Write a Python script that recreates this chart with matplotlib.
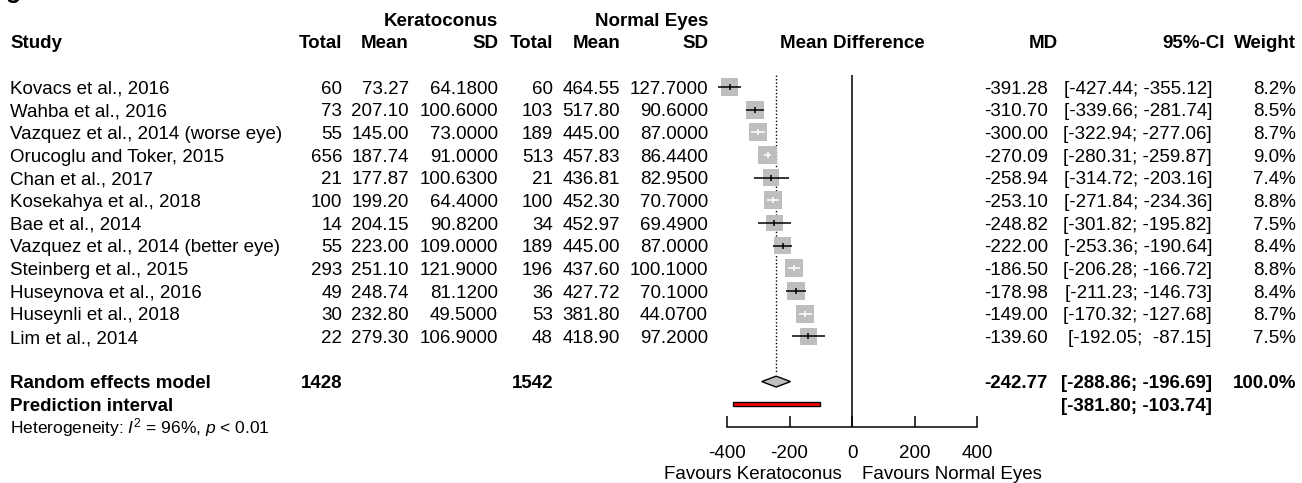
import numpy as np
import matplotlib
matplotlib.use("Agg")
import matplotlib.pyplot as plt
from matplotlib.patches import Rectangle, Polygon

plt.rcParams['font.family'] = ['Liberation Sans', 'DejaVu Sans']
plt.rcParams['font.size'] = 13.5
plt.rcParams['axes.unicode_minus'] = False
plt.rcParams['mathtext.fontset'] = 'custom'
plt.rcParams['mathtext.rm'] = 'Liberation Sans'
plt.rcParams['mathtext.it'] = 'Liberation Sans:italic'

# study data
studies = ["Kovacs et al., 2016", "Wahba et al., 2016", "Vazquez et al., 2014 (worse eye)",
           "Orucoglu and Toker, 2015", "Chan et al., 2017", "Kosekahya et al., 2018",
           "Bae et al., 2014", "Vazquez et al., 2014 (better eye)", "Steinberg et al., 2015",
           "Huseynova et al., 2016", "Huseynli et al., 2018", "Lim et al., 2014"]
kc_n = [60, 73, 55, 656, 21, 100, 14, 55, 293, 49, 30, 22]
kc_mean = [73.27, 207.10, 145.00, 187.74, 177.87, 199.20, 204.15, 223.00, 251.10, 248.74, 232.80, 279.30]
kc_sd = [64.18, 100.6, 73.0, 91.0, 100.63, 64.4, 90.82, 109.0, 121.9, 81.12, 49.5, 106.9]
ne_n = [60, 103, 189, 513, 21, 100, 34, 189, 196, 36, 53, 48]
ne_mean = [464.55, 517.80, 445.00, 457.83, 436.81, 452.30, 452.97, 445.00, 437.60, 427.72, 381.80, 418.90]
ne_sd = [127.7, 90.6, 87.0, 86.44, 82.95, 70.7, 69.49, 87.0, 100.1, 70.1, 44.07, 97.2]
md = [-391.28, -310.70, -300.00, -270.09, -258.94, -253.10, -248.82, -222.00, -186.50, -178.98, -149.00, -139.60]
ci_lo = [-427.44, -339.66, -322.94, -280.31, -314.72, -271.84, -301.82, -253.36, -206.28, -211.23, -170.32, -192.05]
ci_hi = [-355.12, -281.74, -277.06, -259.87, -203.16, -234.36, -195.82, -190.64, -166.72, -146.73, -127.68, -87.15]
weight = [8.2, 8.5, 8.7, 9.0, 7.4, 8.8, 7.5, 8.4, 8.8, 8.4, 8.7, 7.5]

# pooled results
re_md = -242.77
re_lo, re_hi = -288.86, -196.69
pi_lo, pi_hi = -381.80, -103.74
kc_total, ne_total = 1428, 1542

W, H = 1302, 483
row0, drow = 87.0, 22.66        # pixel y of first study row, row spacing
ylim = ((H - row0) / drow, -row0 / drow)

fig = plt.figure(figsize=(W / 100, H / 100), dpi=100)

# text layer, x in pixels, y in rows
tx = fig.add_axes([0, 0, 1, 1])
tx.set_xlim(0, W)
tx.set_ylim(*ylim)
tx.axis('off')

# forest layer, x in mean difference units
fx = fig.add_axes([727 / W, 0, 250 / W, 1])
fx.set_xlim(-400, 400)
fx.set_ylim(*ylim)
fx.patch.set_visible(False)
for s in ['top', 'right', 'left']:
    fx.spines[s].set_visible(False)
fx.spines['bottom'].set_position(('data', 15))
fx.spines['bottom'].set_bounds(-400, 400)
fx.spines['bottom'].set_linewidth(1.1)
fx.set_yticks([])
fx.set_xticks([-400, -200, 0, 200, 400])
fx.tick_params(axis='x', direction='in', length=8, width=1.1, pad=13, labelsize=13.5)

BASE = 0.3  # baseline offset (rows) so caps are centred on the row


def put(x, r, s, ha='right', bold=False, size=None):
    tx.text(x, r + BASE, s, ha=ha, va='baseline',
            fontweight='bold' if bold else 'normal', fontsize=size)


# partial figure letter cut by the top edge
tx.text(6, (-2 - row0) / drow, "g", ha='left', va='baseline', fontsize=18, fontweight='bold')

# headers
put(498, -3, "Keratoconus", bold=True)
put(708, -3, "Normal Eyes", bold=True)
put(10, -2, "Study", ha='left', bold=True)
put(342, -2, "Total", bold=True)
put(409, -2, "Mean", bold=True)
put(498, -2, "SD", bold=True)
put(553, -2, "Total", bold=True)
put(620, -2, "Mean", bold=True)
put(708, -2, "SD", bold=True)
put(852, -2, "Mean Difference", ha='center', bold=True)
put(1058, -2, "MD", bold=True)
put(1225, -2, "95%-CI", bold=True)
put(1296, -2, "Weight", bold=True)

# study rows
for i in range(len(studies)):
    put(10, i, studies[i], ha='left')
    put(342, i, str(kc_n[i]))
    put(409, i, "%.2f" % kc_mean[i])
    put(498, i, "%.4f" % kc_sd[i])
    put(553, i, str(ne_n[i]))
    put(620, i, "%.2f" % ne_mean[i])
    put(708, i, "%.4f" % ne_sd[i])
    put(1048, i, "%.2f" % md[i])
    put(1212, i, "[{:>7.2f}; {:>7.2f}]".format(ci_lo[i], ci_hi[i]))
    put(1296, i, "%.1f%%" % weight[i])

# summary rows
r_re, r_pi = 12 + 1, 12 + 2
put(10, r_re, "Random effects model", ha='left', bold=True)
put(342, r_re, str(kc_total), bold=True)
put(553, r_re, str(ne_total), bold=True)
put(1048, r_re, "%.2f" % re_md, bold=True)
put(1212, r_re, "[{:>7.2f}; {:>7.2f}]".format(re_lo, re_hi), bold=True)
put(1296, r_re, "100.0%", bold=True)
put(10, r_pi, "Prediction interval", ha='left', bold=True)
put(1212, r_pi, "[{:>7.2f}; {:>7.2f}]".format(pi_lo, pi_hi), bold=True)
put(10, r_pi + 1, r"Heterogeneity: $I^2$ = 96%, $p$ < 0.01", ha='left', size=12.5)

# favours labels
fx.text(-32, 17 + BASE, "Favours Keratoconus", ha='right', va='baseline', fontsize=13.5)
fx.text(32, 17 + BASE, "Favours Normal Eyes", ha='left', va='baseline', fontsize=13.5)

# reference lines
fx.vlines(0, -0.53, 15, color='black', lw=1.1, clip_on=False)
fx.vlines(re_md, -0.53, 12.62, color='black', lw=1.0, linestyles=(0, (1, 1.5)), clip_on=False)

# squares and CIs
ux = 800 / 250.0   # data units per pixel
for i in range(len(studies)):
    side = 17.5 * np.sqrt(weight[i] / 8.2)
    w_d, h_d = side * ux, side / drow
    fx.add_patch(Rectangle((md[i] - w_d / 2, i - h_d / 2), w_d, h_d,
                           facecolor='#BEBEBE', edgecolor='none', zorder=2, clip_on=False))
    inside = (ci_hi[i] - ci_lo[i]) < w_d
    col = 'white' if inside else 'black'
    fx.hlines(i, ci_lo[i], ci_hi[i], color=col, lw=1.1, zorder=3, clip_on=False)
    fx.vlines(md[i], i - 0.13, i + 0.13, color=col, lw=1.1, zorder=3, clip_on=False)

# diamond and prediction interval
fx.add_patch(Polygon([(re_lo, r_re), (re_md, r_re - 0.24), (re_hi, r_re), (re_md, r_re + 0.24)],
                     closed=True, facecolor='#BEBEBE', edgecolor='black', lw=1.0, zorder=3,
                     clip_on=False))
fx.add_patch(Rectangle((pi_lo, r_pi - 0.09), pi_hi - pi_lo, 0.18,
                       facecolor='red', edgecolor='black', lw=1.0, zorder=3, clip_on=False))

fig.savefig('out.png', dpi=100)
